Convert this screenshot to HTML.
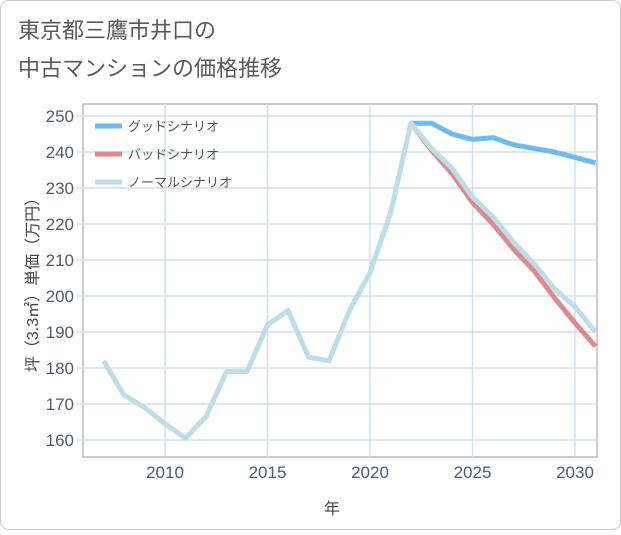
<!DOCTYPE html>
<html><head><meta charset="utf-8">
<style>
body{margin:0;background:#fff;}
#wrap{position:relative;width:621px;height:530px;font-family:"Liberation Sans","Noto Sans CJK JP",sans-serif;}
</style></head>
<body>
<div id="wrap">
<svg id="chart" width="621" height="530" xmlns="http://www.w3.org/2000/svg">
<rect x="0.5" y="0.5" width="620" height="529" rx="8" fill="#fff" stroke="#ccc"/>
<text x="18" y="38" font-size="22" fill="#5a5a5a" font-family="Liberation Sans, Noto Sans CJK JP, sans-serif">東京都三鷹市井口の</text>
<text x="18" y="76" font-size="22" fill="#5a5a5a" font-family="Liberation Sans, Noto Sans CJK JP, sans-serif">中古マンションの価格推移</text>
<g id="grid"></g>
<g id="series"></g>
<g id="legend"></g>
<text x="332" y="514" font-size="16" fill="#444" text-anchor="middle" font-family="Liberation Sans, Noto Sans CJK JP, sans-serif">年</text>
<text transform="translate(38,281) rotate(-90)" font-size="16" fill="#444" text-anchor="middle" font-family="Liberation Sans, Noto Sans CJK JP, sans-serif">坪（3.3㎡）単価（万円）</text>
</svg>
</div>
<script>
const years=[2007,2008,2009,2010,2011,2012,2013,2014,2015,2016,2017,2018,2019,2020,2021,2022,2023,2024,2025,2026,2027,2028,2029,2030,2031];
const normalValues=[182,172.5,169,164.5,160.5,166.5,179,179,192,196,183,182,196,206.5,223,248,241,235.5,227.5,222,215,209,202,197,190];
const goodYears=[2022,2023,2024,2025,2026,2027,2028,2029,2030,2031];
const goodValues=[248,248,245,243.5,244,242,241,240,238.5,237];
const badYears=[2022,2023,2024,2025,2026,2027,2028,2029,2030,2031];
const badValues=[248,240.5,234,226,220,213,207,199.5,192.5,186];
const xTicks=[2010,2015,2020,2025,2030];
const yTicks=[160,170,180,190,200,210,220,230,240,250];
const legendLabels=["グッドシナリオ","バッドシナリオ","ノーマルシナリオ"];

const L=83,R=597,T=104,B=457;
const xs=y=>165+(y-2010)*20.5;
const ys=v=>116+(250-v)*3.6;
const NS="http://www.w3.org/2000/svg";
function mk(tag,attrs,parent){const e=document.createElementNS(NS,tag);for(const k in attrs)e.setAttribute(k,attrs[k]);parent.appendChild(e);return e;}
const grid=document.getElementById('grid');
mk('rect',{x:L,y:T,width:R-L,height:B-T,fill:'#fff',stroke:'#999','stroke-width':1},grid);
xTicks.forEach(t=>{
  const l=mk('line',{x1:xs(t),x2:xs(t),y1:T,y2:B,stroke:'#d3e0ea','stroke-width':1.5},grid);
  
  
  const tx=mk('text',{x:xs(t),y:B+21,'font-size':17,fill:'#4d5b6b','text-anchor':'middle'},grid);
  tx.textContent=t;
  
  
});
yTicks.forEach(t=>{
  const l=mk('line',{x1:L,x2:R,y1:ys(t),y2:ys(t),stroke:'#d3e0ea','stroke-width':1.5},grid);
  
  
  mk('line',{x1:L-6,x2:L,y1:ys(t),y2:ys(t),stroke:'#d3e0ea','stroke-width':1.5},grid);
  const tx=mk('text',{x:L-9,y:ys(t)+6,'font-size':17,fill:'#4d5b6b','text-anchor':'end'},grid);
  tx.textContent=t;
  
  
});
const series=document.getElementById('series');
const clip=mk('clipPath',{id:'cp'},series);mk('rect',{x:L,y:T,width:R-L,height:B-T},clip);
function line(xv,yv,color,name){
  const d=xv.map((x,i)=>(i?'L':'M')+xs(x).toFixed(1)+','+ys(yv[i]).toFixed(1)).join(' ');
  const p=mk('path',{d:d,fill:'none',stroke:color,'stroke-width':5,'stroke-linejoin':'round','clip-path':'url(#cp)'},series);
  
  
}
line(goodYears,goodValues,'#6bbcf3','good-scenario-line');
line(badYears,badValues,'#e0888e','bad-scenario-line');
line(years,normalValues,'#bcdeea','normal-scenario-line');
const legend=document.getElementById('legend');
const colors=['#6bbcf3','#e0888e','#bcdeea'];
legendLabels.forEach((lab,i)=>{
  const y=126+i*28;
  const g=mk('g',{},legend);
  
  
  mk('line',{x1:95,x2:122,y1:y,y2:y,stroke:colors[i],'stroke-width':5},g);
  const t=mk('text',{x:128,y:y+5,'font-size':13,fill:'#555'},g);
  t.textContent=lab;
});
</script>
</body></html>
